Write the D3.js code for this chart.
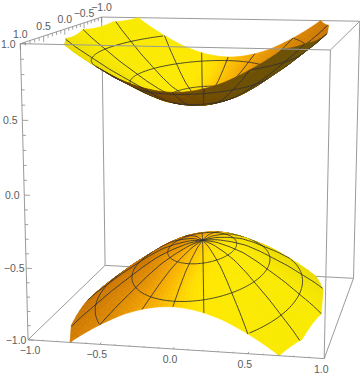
<!DOCTYPE html>
<html>
<head>
<meta charset="utf-8">
<script src="https://cdn.jsdelivr.net/npm/d3@7"></script>
<style>
  body { margin: 0; background: #fff; }
  svg { display: block; }
  text { font-family: "Liberation Sans", sans-serif; font-size: 10.5px; fill: #5c5c5c; dominant-baseline: central; text-anchor: middle; }
</style>
</head>
<body>
<div id="chart"></div>
<script>
// tick labels on the three box axes
const xTicks = [-1, -0.5, 0, 0.5, 1];
const yTicks = [1, 0.5, 0, -0.5, -1];
const zTicks = [1, 0.5, 0, -0.5, -1];
const minorTicks = [-0.9, -0.8, -0.7, -0.6, -0.4, -0.3, -0.2, -0.1, 0.1, 0.2, 0.3, 0.4, 0.6, 0.7, 0.8, 0.9];

// surface height against elliptic radius
const profileRadius = [0, 0.2, 0.4, 0.6, 0.8, 1.0, 1.2, 1.4, 1.6, 1.73];
const profileHeight = [0.50, 0.51, 0.54, 0.58, 0.64, 0.71, 0.78, 0.86, 0.94, 1.00];
const sheets = [1, -1];

// mesh
const meshRings = [0.47, 0.94, 1.41];
const meshSpokes = d3.range(0, 360, 22.5);
// the z = +-1 rim is a coarse polygon in the picture, these are its vertices
const rimAngles = [54.74, 69, 90, 111, 125.26, 234.74, 249, 270, 291, 305.26];

// box corners in data space -> where they sit in the photo
const viewPins = [
  [-1, 1, -1, 28, 340], [1, 1, -1, 325, 358], [1, -1, -1, 353, 279], [-1, -1, -1, 105, 265],
  [-1, 1, 1, 20, 44], [1, 1, 1, 330, 50], [1, -1, 1, 360, 21], [-1, -1, 1, 102, 17],
];

const width = 360, height = 377;
const semiX = 0.5, semiY = 1;
const heightAt = d3.scaleLinear().domain(profileRadius).range(profileHeight);

function solve(A, b) {
  const n = b.length;
  const M = A.map((row, i) => [...row, b[i]]);
  for (let c = 0; c < n; c++) {
    let p = c;
    for (let r = c + 1; r < n; r++) if (Math.abs(M[r][c]) > Math.abs(M[p][c])) p = r;
    [M[c], M[p]] = [M[p], M[c]];
    for (let r = 0; r < n; r++) {
      if (r === c) continue;
      const f = M[r][c] / M[c][c];
      for (let k = c; k <= n; k++) M[r][k] -= f * M[c][k];
    }
  }
  return M.map((row, i) => row[n] / row[i]);
}

// fit the perspective camera to the pins (least squares)
function fitCamera(pins) {
  const rows = [], rhs = [];
  pins.forEach(([x, y, z, u, v]) => {
    rows.push([x, y, z, 1, 0, 0, 0, 0, -u * x, -u * y, -u * z]); rhs.push(u);
    rows.push([0, 0, 0, 0, x, y, z, 1, -v * x, -v * y, -v * z]); rhs.push(v);
  });
  const AtA = d3.range(11).map(i => d3.range(11).map(j => d3.sum(rows, r => r[i] * r[j])));
  const Atb = d3.range(11).map(i => d3.sum(rows, (r, k) => r[i] * rhs[k]));
  return solve(AtA, Atb);
}
const cam = fitCamera(viewPins);

function project([x, y, z]) {
  const w = cam[8] * x + cam[9] * y + cam[10] * z + 1;
  return [(cam[0] * x + cam[1] * y + cam[2] * z + cam[3]) / w,
          (cam[4] * x + cam[5] * y + cam[6] * z + cam[7]) / w, w];
}

function area(pts) {
  let s = 0;
  pts.forEach((p, i) => {
    const q = pts[(i + 1) % pts.length];
    s += p[0] * q[1] - q[0] * p[1];
  });
  return s / 2;
}

const rad = d => d * Math.PI / 180;
const maxRadius = profileRadius[profileRadius.length - 1];

// the sheet stops at the y = +-1 walls and on the chords of the rim polygon
function radiusLimit(a) {
  a = ((a % 360) + 360) % 360;
  const c = Math.abs(Math.cos(rad(a)));
  let limit = c > 1e-6 ? Math.min(maxRadius, 1 / c) : maxRadius;
  for (let i = 0; i < rimAngles.length - 1; i++) {
    const a0 = rimAngles[i], a1 = rimAngles[i + 1];
    if (a1 - a0 > 30 || a < a0 || a > a1) continue;
    limit = Math.min(limit, maxRadius * Math.cos(rad((a1 - a0) / 2)) / Math.cos(rad(a - (a0 + a1) / 2)));
  }
  return limit;
}
const surfacePoint = (r, a, s) => [semiX * r * Math.sin(rad(a)), semiY * r * Math.cos(rad(a)), s * heightAt(r)];

function normalAt(r, a, s) {
  const d = 0.12;
  const slope = (heightAt(Math.min(maxRadius, r + d)) - heightAt(Math.max(0, r - d))) / (Math.min(maxRadius, r + d) - Math.max(0, r - d));
  const nx = -s * slope * Math.sin(rad(a)) / semiX, ny = -s * slope * Math.cos(rad(a)) / semiY;
  const len = Math.hypot(nx, ny, 1);
  return [nx / len, ny / len, 1 / len];
}

const topColor = d3.scaleLinear()
  .domain([-0.75, -0.55, -0.35, -0.15, 0.09, 0.2, 0.35, 0.7])
  .range(["#c06a00", "#d07a00", "#e08c00", "#f2a400", "#ffc800", "#ffdc00", "#ffe800", "#f8ea00"]);
const underColor = d3.scaleLinear().domain([-0.6, 0, 0.6]).range(["#6e3f00", "#744800", "#6a5208"]);

function cellColor(n, fromAbove) {
  if (!fromAbove) return underColor(-n[0]);
  const c = topColor(n[0] + 0.3 * n[1]);
  const back = Math.max(0, -n[1]);
  if (n[0] > 0) return d3.interpolateRgb(c, "#dcd000")(Math.min(1, n[0] * back * 5));
  return d3.interpolateRgb(c, "#a85000")(Math.min(1, -n[0] * back * 5));
}

const svg = d3.select("#chart").append("svg").attr("width", width).attr("height", height);
const line = d3.line();
const upSign = Math.sign(area([surfacePoint(0.2, 10, 1), surfacePoint(0.4, 10, 1), surfacePoint(0.4, 30, 1)].map(p => project([p[0], p[1], -1]))));

// box edges behind the surfaces
const corner = (x, y, z) => project([x, y, z]);
const edge = (g, a, b) => g.append("path").attr("d", line([a, b].map(p => corner(...p).slice(0, 2))))
  .attr("fill", "none").attr("stroke", "#9a9a9a").attr("stroke-width", 1);

const backBox = svg.append("g");
[[[-1, -1, -1], [1, -1, -1]], [[-1, -1, 1], [1, -1, 1]], [[-1, -1, -1], [-1, -1, 1]], [[1, -1, -1], [1, -1, 1]],
 [[-1, 1, -1], [-1, -1, -1]], [[1, 1, -1], [1, -1, -1]]].forEach(([a, b]) => edge(backBox, a, b));

// surface cells and mesh pieces, painted far to near
const angles = d3.merge([d3.range(0, 360, 3.75), rimAngles]).sort(d3.ascending);
const radii = d3.range(0, 25).map(i => i / 24);
const items = [];

sheets.forEach(s => {
  angles.forEach((a0, j) => {
    const a1 = j === angles.length - 1 ? angles[0] + 360 : angles[j + 1];
    if (a1 - a0 < 1e-6) return;
    const am = (a0 + a1) / 2;
    radii.slice(0, -1).forEach((f, i) => {
      const f1 = radii[i + 1];
      const p = [[f, a0], [f1, a0], [f1, a1], [f, a1]].map(([k, a]) => project(surfacePoint(k * radiusLimit(a), a, s)));
      const ar = area(p);
      if (Math.abs(ar) < 1e-4) return;
      const rm = (f + f1) / 2 * radiusLimit(am);
      items.push({
        depth: d3.mean(p, q => q[2]),
        pts: p.map(q => q.slice(0, 2)),
        fill: cellColor(normalAt(rm, am, s), Math.sign(ar) === upSign),
      });
    });
  });

  const addSegment = (a, b) => {
    const pa = project(a), pb = project(b);
    items.push({ depth: (pa[2] + pb[2]) / 2 - 0.02, pts: [pa.slice(0, 2), pb.slice(0, 2)], mesh: true });
  };
  meshSpokes.forEach(a => {
    const limit = radiusLimit(a);
    d3.range(0, 30).forEach(i => addSegment(surfacePoint(limit * i / 30, a, s), surfacePoint(limit * (i + 1) / 30, a, s)));
  });
  meshRings.forEach(r => {
    d3.range(0, 360, 2).forEach(a => {
      if (r > radiusLimit(a) || r > radiusLimit(a + 2)) return;
      addSegment(surfacePoint(r, a, s), surfacePoint(r, a + 2, s));
    });
  });
});

items.sort((a, b) => d3.descending(a.depth, b.depth));
svg.append("g").selectAll("path").data(items).join("path")
  .attr("d", d => line(d.pts) + (d.mesh ? "" : "Z"))
  .attr("fill", d => d.mesh ? "none" : d.fill)
  .attr("stroke", d => d.mesh ? "#303030" : d.fill)
  .attr("stroke-width", d => d.mesh ? 1 : 0.6)
  .attr("stroke-opacity", d => d.mesh ? 0.85 : 1);

// box edges in front
const frontBox = svg.append("g");
[[[-1, 1, -1], [1, 1, -1]], [[-1, 1, 1], [1, 1, 1]], [[-1, 1, -1], [-1, 1, 1]], [[1, 1, -1], [1, 1, 1]],
 [[-1, 1, 1], [-1, -1, 1]], [[1, 1, 1], [1, -1, 1]]].forEach(([a, b]) => edge(frontBox, a, b));

// ticks
const tick = (from, to) => frontBox.append("path").attr("d", line([project(from).slice(0, 2), project(to).slice(0, 2)]))
  .attr("stroke", "#8a8a8a").attr("stroke-width", 0.8).attr("fill", "none");
const majorLen = 0.04, minorLen = 0.022;

xTicks.forEach(v => tick([v, 1, -1], [v, 1 - majorLen, -1]));
minorTicks.forEach(v => tick([v, 1, -1], [v, 1 - minorLen, -1]));
zTicks.forEach(v => tick([-1, 1, v], [-1 + majorLen, 1, v]));
minorTicks.forEach(v => tick([-1, 1, v], [-1 + minorLen, 1, v]));
yTicks.forEach(v => tick([-1, v, 1], [-1, v, 1 - majorLen]));
minorTicks.forEach(v => tick([-1, v, 1], [-1, v, 1 - minorLen]));

const fmt = v => (v < 0 ? "\u2212" : "") + Math.abs(v).toFixed(1);
const label = (v, at, dx, dy) => {
  const p = project(at);
  svg.append("text").attr("x", p[0] + dx).attr("y", p[1] + dy).text(fmt(v));
};
xTicks.forEach(v => label(v, [v, 1, -1], v === -1 ? 2 : -3, 10));
zTicks.forEach(v => label(v, [-1, 1, v], -12, 0));
yTicks.forEach(v => label(v, [-1, v, 1], 0, -10));
</script>
</body>
</html>
